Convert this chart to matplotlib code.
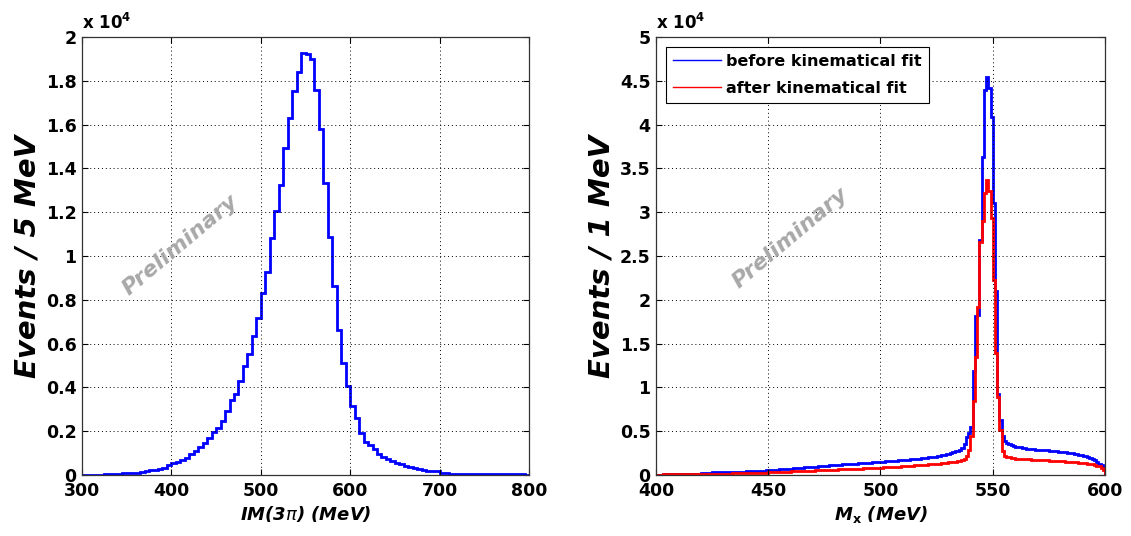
import matplotlib.pyplot as plt
import numpy as np
from matplotlib.ticker import FuncFormatter, MultipleLocator

plt.rcParams['font.family'] = ['DejaVu Sans']

# IM(3pi), 5 MeV bins from 300 to 800 MeV
im_edges = np.arange(300, 805, 5)
im_counts = [
    5, 5, 10, 10, 15, 40, 40, 50, 55, 70,
    80, 100, 110, 140, 170, 210, 250, 290, 340, 440,
    560, 610, 680, 790, 950, 1110, 1290, 1470, 1710, 1970,
    2150, 2470, 2910, 3410, 3680, 4290, 4970, 5530, 6360, 7170,
    8290, 9290, 10800, 12060, 13230, 14920, 16300, 17530, 18420, 19280,
    19220, 18980, 17600, 15800, 13350, 10880, 8640, 6620, 5110, 4050,
    3140, 2580, 1920, 1520, 1360, 1170, 950, 830, 710, 620,
    550, 480, 420, 370, 320, 280, 240, 200, 180, 160,
    100, 70, 55, 50, 50, 45, 45, 45, 40, 40,
    40, 40, 35, 35, 35, 35, 50, 40, 30, 20,
]

# Missing mass M_x, 1 MeV bins from 400 to 600 MeV
mx_edges = np.arange(400, 601, 1)
mx_before = [
    50, 55, 55, 60, 60, 65, 65, 70, 70, 75,
    75, 80, 80, 85, 90, 90, 95, 100, 100, 105,
    260, 270, 265, 280, 285, 290, 300, 295, 310, 320,
    320, 330, 340, 335, 350, 360, 365, 370, 385, 390,
    400, 410, 420, 430, 450, 460, 470, 490, 500, 520,
    560, 570, 590, 600, 620, 640, 650, 670, 690, 710,
    740, 760, 770, 800, 820, 840, 860, 880, 900, 920,
    950, 960, 990, 1000, 1020, 1050, 1060, 1090, 1110, 1130,
    1150, 1170, 1180, 1200, 1220, 1240, 1250, 1270, 1290, 1310,
    1330, 1340, 1360, 1380, 1400, 1410, 1430, 1460, 1480, 1500,
    1520, 1540, 1560, 1570, 1590, 1610, 1630, 1650, 1670, 1690,
    1700, 1730, 1750, 1770, 1800, 1820, 1850, 1870, 1900, 1930,
    1960, 2000, 2030, 2070, 2110, 2150, 2200, 2250, 2300, 2380,
    2450, 2520, 2600, 2700, 2780, 2900, 3100, 3500, 4300, 4800,
    5500, 11900, 18100, 18300, 26800, 36300, 44000, 45400, 44200, 40900,
    31000, 21000, 9300, 6300, 4400, 3900, 3600, 3500, 3400, 3300,
    3250, 3200, 3150, 3100, 3050, 3000, 2980, 2950, 2920, 2900,
    2880, 2860, 2840, 2820, 2800, 2780, 2750, 2720, 2700, 2670,
    2640, 2610, 2580, 2540, 2500, 2460, 2420, 2370, 2320, 2260,
    2200, 2120, 2040, 1950, 1850, 1700, 1500, 1300, 1100, 900,
]
mx_after = [
    50, 55, 55, 60, 60, 65, 65, 70, 70, 75,
    75, 80, 80, 85, 90, 90, 95, 100, 100, 105,
    110, 115, 120, 125, 130, 135, 140, 140, 145, 150,
    155, 160, 165, 170, 175, 180, 185, 190, 195, 200,
    205, 210, 220, 225, 235, 240, 250, 260, 270, 280,
    300, 310, 320, 330, 340, 350, 360, 370, 380, 390,
    410, 420, 430, 440, 450, 460, 470, 480, 490, 500,
    510, 520, 530, 540, 550, 560, 570, 580, 590, 600,
    620, 630, 640, 650, 660, 670, 690, 700, 710, 720,
    730, 740, 750, 760, 780, 790, 800, 810, 830, 840,
    850, 870, 880, 890, 910, 920, 940, 950, 970, 980,
    1000, 1020, 1030, 1050, 1070, 1090, 1110, 1130, 1150, 1170,
    1190, 1210, 1230, 1250, 1270, 1290, 1310, 1340, 1370, 1400,
    1430, 1460, 1500, 1540, 1580, 1630, 1700, 1800, 2200, 2900,
    4400, 8500, 13500, 19200, 26600, 29000, 32200, 33700, 32400, 29300,
    22300, 13900, 8900, 5100, 2700, 2200, 2050, 2000, 1950, 1900,
    1880, 1860, 1840, 1820, 1800, 1780, 1770, 1760, 1740, 1720,
    1710, 1700, 1690, 1680, 1670, 1650, 1640, 1630, 1610, 1600,
    1580, 1560, 1540, 1520, 1500, 1480, 1460, 1440, 1410, 1380,
    1350, 1320, 1280, 1240, 1200, 1150, 1080, 1000, 850, 600,
]

LABEL_FONT = dict(fontsize=21, fontweight='bold', fontstyle='italic')
XLABEL_FONT = dict(fontsize=13, fontweight='bold', fontstyle='italic')
WATERMARK = dict(fontsize=16, fontweight='bold', fontstyle='italic',
                 color='#a8a8a8', rotation=40, ha='center', va='center')

fig = plt.figure(figsize=(11.31, 5.36), dpi=100)
ax1 = fig.add_axes([82 / 1131, 61 / 536, 447 / 1131, 438 / 536])
ax2 = fig.add_axes([656 / 1131, 61 / 536, 449 / 1131, 438 / 536])

sci = FuncFormatter(lambda v, pos: f"{v / 1e4:g}")


def style_axes(ax):
    ax.tick_params(direction='in', length=4, width=0.8, labelsize=12.5,
                   top=True, right=True)
    ax.tick_params(axis='y', pad=4)
    ax.tick_params(axis='x', pad=5)
    for lab in ax.get_xticklabels() + ax.get_yticklabels():
        lab.set_fontweight('bold')
    ax.grid(True, color='black', linestyle=(0, (1, 3)), linewidth=0.7)
    for s in ax.spines.values():
        s.set_linewidth(0.9)
        s.set_color('#333333')
    ax.yaxis.set_major_formatter(sci)
    ax.text(0.0, 1.008, r"x 10$^\mathbf{4}$", transform=ax.transAxes,
            fontsize=12, fontweight='bold', ha='left', va='bottom')


# left panel: 3pi invariant mass
ax1.stairs(im_counts, im_edges, color='blue', linewidth=2)
ax1.set_xlim(300, 800)
ax1.set_ylim(0, 20000)
ax1.yaxis.set_major_locator(MultipleLocator(2000))
ax1.xaxis.set_major_locator(MultipleLocator(100))
style_axes(ax1)
ax1.set_ylabel("Events / 5 MeV", labelpad=3, **LABEL_FONT)
ax1.set_xlabel(r"IM(3$\pi$) (MeV)", labelpad=3, **XLABEL_FONT)
ax1.text(0.22, 0.525, "Preliminary", transform=ax1.transAxes, **WATERMARK)

# right panel: missing mass before/after kinematic fit
ax2.stairs(mx_before, mx_edges, color='blue', linewidth=2,
           label='before kinematical fit')
ax2.stairs(mx_after, mx_edges, color='red', linewidth=2,
           label='after kinematical fit')
ax2.set_xlim(400, 600)
ax2.set_ylim(0, 50000)
ax2.yaxis.set_major_locator(MultipleLocator(5000))
ax2.xaxis.set_major_locator(MultipleLocator(50))
style_axes(ax2)
ax2.set_ylabel("Events / 1 MeV", labelpad=3, **LABEL_FONT)
ax2.set_xlabel(r"M$_\mathbf{x}$ (MeV)", labelpad=3, **XLABEL_FONT)
ax2.text(0.30, 0.54, "Preliminary", transform=ax2.transAxes, **WATERMARK)

handles = [plt.Line2D([], [], color='blue', linewidth=1),
           plt.Line2D([], [], color='red', linewidth=1)]
leg = ax2.legend(handles, ['before kinematical fit', 'after kinematical fit'],
                 loc='upper left', prop=dict(size=11.5, weight='bold'),
                 fancybox=False, edgecolor='black', framealpha=1,
                 handlelength=3.0, borderaxespad=0.6, borderpad=0.45,
                 labelspacing=0.75, handletextpad=0.35)
leg.get_frame().set_linewidth(0.8)

fig.savefig('out.png', dpi=100)
